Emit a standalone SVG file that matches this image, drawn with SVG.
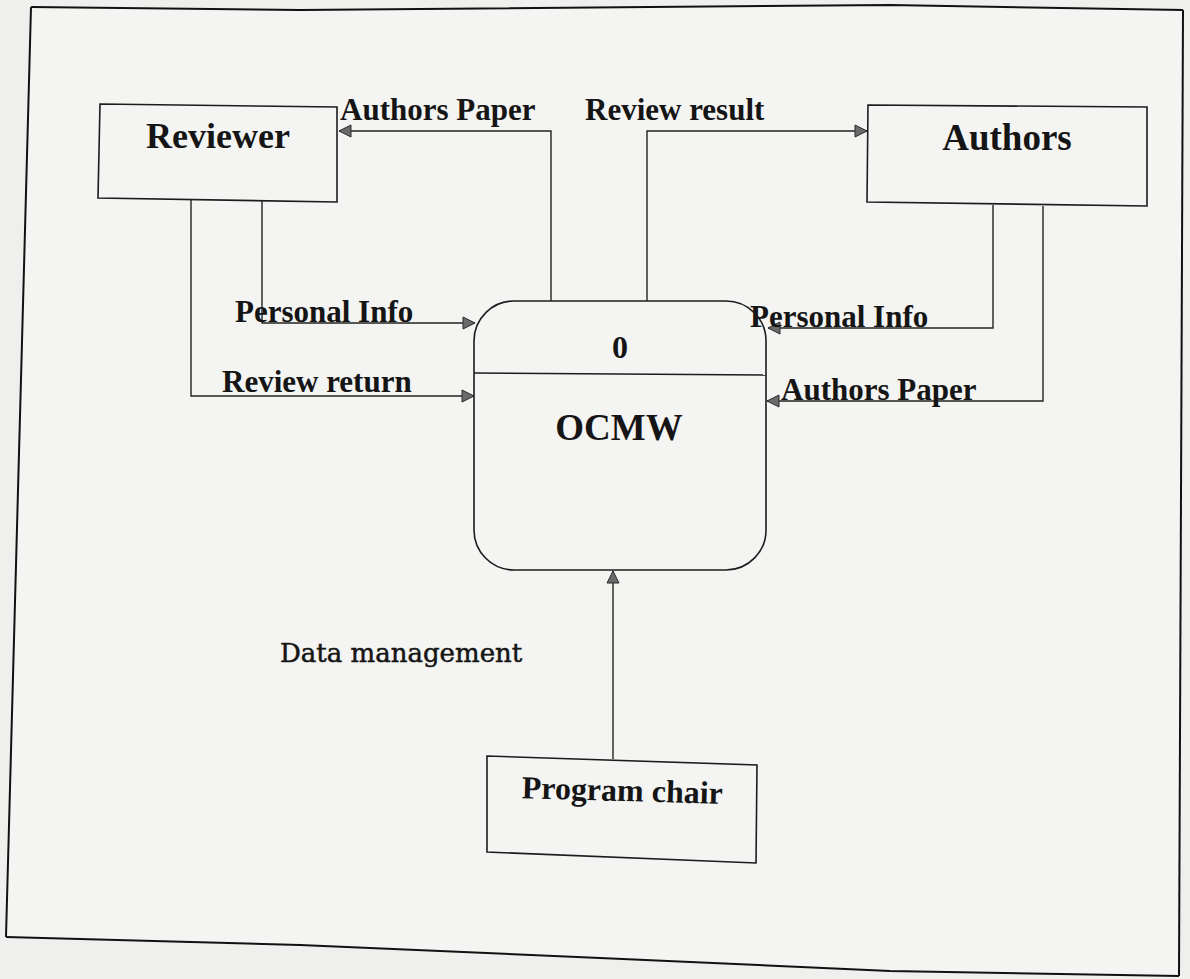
<svg xmlns="http://www.w3.org/2000/svg" width="1190" height="979" viewBox="0 0 1190 979">
  <defs>
    <style>
      .box { fill: none; stroke: #1c1c1c; stroke-width: 1.6; stroke-linejoin: miter; }
      .conn { fill: none; stroke: #222; stroke-width: 1.4; }
      .node { font-family: "Liberation Serif", "Times New Roman", serif; font-weight: bold; fill: #151515; text-anchor: middle; }
      .lbl { font-family: "Liberation Serif", "Times New Roman", serif; font-weight: bold; font-size: 31px; fill: #151515; }
      .frame { fill: none; stroke: #111; stroke-width: 2; }
    </style>
    <marker id="arr" markerUnits="userSpaceOnUse" markerWidth="16" markerHeight="16" refX="13" refY="7" orient="auto">
      <path d="M1,1 L13,7 L1,13 Z" fill="#6a6a6a" stroke="#2a2a2a" stroke-width="1"/>
    </marker>
  </defs>

  <rect x="0" y="0" width="1190" height="979" fill="#efefed"/>
  <path d="M31,7 L300,10 L890,5 L1183,10 L1179,976 L890,971 L600,958 L300,945 L6,937 Z" fill="#f4f4f2" stroke="none"/>

  <g id="frame">
    <path class="frame" d="M31,7 L300,10 L890,5 L1183,10"/>
    <path class="frame" d="M1183,10 L1179,976"/>
    <path class="frame" d="M6,937 L300,945 L600,958 L890,971 L1179,976"/>
    <path class="frame" d="M31,7 L6,937"/>
  </g>

  <g id="connectors">
    <path class="conn" d="M551,301 V131 H339" marker-end="url(#arr)"/>
    <path class="conn" d="M647,301 V131 H867" marker-end="url(#arr)"/>
    <path class="conn" d="M262,201 V323 H475" marker-end="url(#arr)"/>
    <path class="conn" d="M191,200 V396 H474" marker-end="url(#arr)"/>
    <path class="conn" d="M993,205 V328 H768" marker-end="url(#arr)"/>
    <path class="conn" d="M1043,206 V401 H767" marker-end="url(#arr)"/>
    <path class="conn" d="M613,759 V571" marker-end="url(#arr)"/>
    <text class="lbl" x="340" y="120">Authors Paper</text>
    <text class="lbl" x="585" y="120">Review result</text>
    <text class="lbl" x="235" y="322">Personal Info</text>
    <text class="lbl" x="222" y="392">Review return</text>
    <text class="lbl" x="750" y="327">Personal Info</text>
    <text class="lbl" x="781" y="400">Authors Paper</text>
    <text x="280" y="662" font-family="'DejaVu Serif', 'Liberation Serif', serif" font-size="26" fill="#151515" stroke="#151515" stroke-width="0.5">Data management</text>
  </g>

  <g id="reviewer">
    <path class="box" d="M100,104 L337,107 L337,202 L98,198 Z"/>
    <text class="node" x="218" y="148" font-size="36">Reviewer</text>
  </g>

  <g id="authors">
    <path class="box" d="M868,105 L1147,107 L1147,206 L867,202 Z"/>
    <text class="node" x="1007" y="150" font-size="37">Authors</text>
  </g>

  <g id="ocmw">
    <path class="box" d="M515,301 H726 A40,40 0 0 1 766,341 V529 A40,40 0 0 1 726,570 H514 A40,40 0 0 1 474,530 V341 A40,40 0 0 1 515,301 Z"/>
    <line class="box" x1="474" y1="373" x2="766" y2="375"/>
    <text class="node" x="620" y="358" font-size="32">0</text>
    <text class="node" x="619" y="440" font-size="37">OCMW</text>
  </g>

  <g id="program-chair">
    <path class="box" d="M487,756 L757,765 L756,863 L487,852 Z"/>
    <text class="node" x="622" y="801" font-size="32" transform="rotate(1.6 622 801)">Program chair</text>
  </g>
</svg>
